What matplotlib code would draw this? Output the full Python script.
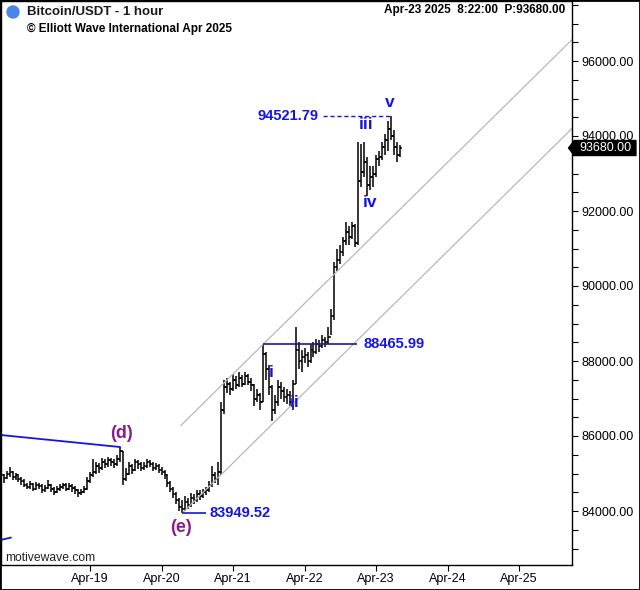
import matplotlib
matplotlib.use("Agg")
import matplotlib.pyplot as plt
import matplotlib.patches as mpatches
import matplotlib.transforms as mtransforms
from matplotlib.ticker import MultipleLocator, FixedLocator, FuncFormatter
import numpy as np

plt.rcParams['font.family'] = ['Liberation Sans', 'DejaVu Sans']

# hourly bars, hour index relative to Apr-19 00:00
hours = np.arange(-30, 105)

closes = [84950, 84880, 84980, 85050, 84900, 84950, 84850, 84800, 84700, 84650,
          84720, 84600, 84700, 84680, 84550, 84620, 84700, 84600, 84520, 84580,
          84650, 84700, 84600, 84680, 84620, 84550, 84480, 84520, 84600, 84800,
          84950, 85050, 85200, 85150, 85300, 85250, 85350, 85300, 85250, 85400,
          85600, 84850, 85000, 85200, 85100, 85300, 85250, 85150, 85200, 85300,
          85250, 85150, 85200, 85100, 85050, 84950, 84750, 84600, 84450, 84300,
          84100, 84050, 84250, 84150, 84350, 84300, 84450, 84400, 84500, 84550,
          84700, 84950, 84850, 85050, 86700, 87300, 87400, 87250, 87500, 87350,
          87550, 87400, 87600, 87450, 87350, 87000, 87100, 86900, 88200, 87800,
          87300, 86700, 86900, 87300, 87200, 87050, 87100, 86900, 87400, 88300,
          88000, 88100, 88150, 88000, 88300, 88250, 88450, 88400, 88550, 88500,
          88650, 89200, 90500, 90700, 90900, 91200, 91450, 91300, 91600, 91150,
          92800, 93050, 93300, 92700, 92900, 93000, 93400, 93450, 93700, 93900,
          94200, 94000, 93700, 93500, 93680]
highs = [85050, 85000, 85080, 85180, 85060, 85020, 84980, 84900, 84850, 84760,
         84800, 84760, 84780, 84760, 84720, 84700, 84820, 84730, 84650, 84660,
         84720, 84760, 84740, 84760, 84720, 84680, 84600, 84600, 84680, 84900,
         85050, 85400, 85300, 85280, 85420, 85380, 85450, 85420, 85380, 85500,
         85707, 85600, 85150, 85300, 85250, 85380, 85350, 85300, 85300, 85380,
         85360, 85300, 85280, 85250, 85180, 85100, 85000, 84800, 84650, 84500,
         84350, 84300, 84400, 84350, 84480, 84450, 84550, 84550, 84580, 84650,
         84800, 85200, 85050, 85300, 86900, 87500, 87550, 87450, 87650, 87600,
         87700, 87620, 87720, 87650, 87550, 87400, 87250, 87150, 88465.99, 88250,
         87900, 87350, 87100, 87500, 87450, 87300, 87250, 87200, 87500, 88900,
         88500, 88300, 88350, 88250, 88450, 88500, 88600, 88550, 88700, 88650,
         88900, 89400, 90650, 91000, 91100, 91300, 91700, 91600, 91700, 91650,
         93840, 93800, 93850, 93450, 93200, 93200, 93500, 93600, 93850, 94050,
         94400, 94521.79, 94150, 93850, 93750]
lows = [84800, 84750, 84850, 84900, 84820, 84830, 84780, 84700, 84640, 84580,
        84600, 84540, 84560, 84600, 84470, 84500, 84580, 84520, 84430, 84470,
        84540, 84580, 84530, 84560, 84500, 84450, 84380, 84420, 84480, 84560,
        84760, 84900, 85000, 85020, 85100, 85150, 85180, 85200, 85150, 85200,
        85300, 84700, 84800, 84950, 85000, 85080, 85120, 85080, 85100, 85150,
        85180, 85080, 85100, 85020, 84950, 84850, 84650, 84500, 84350, 84200,
        84000, 83949.52, 84000, 84050, 84100, 84200, 84250, 84300, 84350, 84420,
        84500, 84650, 84750, 84700, 84950, 86600, 87150, 87100, 87200, 87250,
        87300, 87300, 87350, 87350, 87200, 86800, 86900, 86700, 86900, 87500,
        87100, 86400, 86600, 86800, 87000, 86900, 86850, 86800, 86700, 87400,
        87800, 87700, 87950, 87850, 87950, 88100, 88200, 88250, 88350, 88380,
        88450, 88700, 89100, 90400, 90600, 90800, 91100, 91100, 91250, 91050,
        91100, 92650, 92900, 92400, 92550, 92650, 92900, 93200, 93350, 93500,
        93600, 93900, 93500, 93300, 93450]
opens = [84900] + closes[:-1]

day_ticks = [0, 24, 48, 72, 96, 120, 144]
day_labels = ['Apr-19', 'Apr-20', 'Apr-21', 'Apr-22', 'Apr-23', 'Apr-24', 'Apr-25']

last_price = 93680.00
wave_d_line = ([-30, 10], [86027, 85707])
wave_ac_line = ([-30, -26.6], [83227, 83290])
e_low, i_high, v_high = 83949.52, 88465.99, 94521.79

BLUE = '#1414e6'
PURPLE = '#8b1c8b'

fig = plt.figure(figsize=(6.4, 5.9), dpi=100)
ax = fig.add_axes([1 / 640, 25 / 590, 571 / 640, 564 / 590])

# ohlc bars
tick = 0.6
ax.vlines(hours, lows, highs, color='black', lw=1.1)
ax.hlines(opens, hours - tick, hours, color='black', lw=1.1)
ax.hlines(closes, hours, hours + tick, color='black', lw=1.1)

# channel
slope = 78.4
x0 = hours[61]
xr = 165
ax.plot([x0, xr], [e_low, e_low + slope * (xr - x0)], color='#b8b8b8', lw=0.9)
ax.plot([x0 - 0.5, xr], [86320 - slope * 0.5, 86320 + slope * (xr - x0)],
        color='#b8b8b8', lw=0.9)

# triangle boundary lines
ax.plot(*wave_d_line, color=BLUE, lw=1.3)
ax.plot(*wave_ac_line, color=BLUE, lw=1.3)

# price levels
ax.hlines(e_low, hours[61], hours[61] + 8, color=BLUE, lw=1.2)
ax.text(hours[61] + 9.2, e_low, '83949.52', color=BLUE, fontsize=10.5,
        fontweight='bold', va='center', ha='left')
ax.hlines(i_high, hours[88], hours[120] - 0.5, color='#1a1a9a', lw=1.2)
ax.text(hours[120] + 1.8, i_high, '88465.99', color=BLUE, fontsize=10.5,
        fontweight='bold', va='center', ha='left')
ax.hlines(v_high, hours[107] + 1.2, hours[131], color=BLUE, lw=1,
          linestyles=(0, (3, 2)))
ax.text(hours[107] - 0.2, v_high, '94521.79', color=BLUE, fontsize=10.5,
        fontweight='bold', va='center', ha='right')

# wave labels
ax.text(hours[40] + 0.7, 86060, '(d)', color=PURPLE, fontsize=13,
        fontweight='bold', ha='center', va='center')
ax.text(hours[61] - 0.3, 83560, '(e)', color=PURPLE, fontsize=13,
        fontweight='bold', ha='center', va='center')
for lab, bar, price in [('i', 90.7, 87700), ('ii', 98.8, 86900),
                        ('iii', 122.5, 94300), ('iv', 124, 92230),
                        ('v', 130.7, 94900)]:
    ax.text(bar - 30, price, lab, color=BLUE, fontsize=12.5,
            fontweight='bold', ha='center', va='center')

# axes
ax.set_xlim(-29.87, 161.75)
ax.set_ylim(82560, 97600)
ax.yaxis.tick_right()
ax.yaxis.set_major_locator(MultipleLocator(2000))
ax.yaxis.set_minor_locator(MultipleLocator(500))
ax.yaxis.set_major_formatter(FuncFormatter(lambda v, p: f'{v:.2f}'))
ax.xaxis.set_major_locator(FixedLocator(day_ticks))
ax.set_xticklabels(day_labels)
ax.tick_params(axis='y', which='both', length=4, width=0.8, pad=2.5,
               labelsize=9, direction='out')
ax.tick_params(axis='x', length=4, width=0.8, pad=2, labelsize=9)
for s in ax.spines.values():
    s.set_linewidth(1)

# last price box
trans = mtransforms.blended_transform_factory(ax.transAxes, ax.transData)
h = 200
box = mpatches.Polygon([[0.994, last_price], [1.004, last_price + h],
                        [1.112, last_price + h], [1.112, last_price - h],
                        [1.004, last_price - h]], closed=True,
                       transform=trans, color='black', clip_on=False)
ax.add_patch(box)
ax.text(1.058, last_price, f'{last_price:.2f}', transform=trans, color='white',
        fontsize=9, ha='center', va='center', clip_on=False)

# header
fig.patches.append(mpatches.Ellipse((13 / 640, 1 - 12 / 590), 12 / 640, 12 / 590,
                                    transform=fig.transFigure, color='#4a86e8'))
fig.text(27 / 640, 1 - 12 / 590, 'Bitcoin/USDT - 1 hour', fontsize=9.5,
         fontweight='bold', va='center', ha='left', color='#1a1a1a')
fig.text(27 / 640, 1 - 29 / 590, '\u00a9 Elliott Wave International Apr 2025',
         fontsize=8.5, fontweight='bold', va='center', ha='left')
fig.text(565 / 640, 1 - 10 / 590, 'Apr-23 2025  8:22:00  P:93680.00',
         fontsize=8.5, fontweight='bold', va='center', ha='right')
fig.text(5 / 640, 1 - 558 / 590, 'motivewave.com', fontsize=8.7,
         va='center', ha='left', color='#222222')

fig.patches.append(mpatches.Rectangle((0, 0), 1, 1, transform=fig.transFigure,
                                      fill=False, edgecolor='black', lw=2))

fig.savefig('out.png', dpi=100)
